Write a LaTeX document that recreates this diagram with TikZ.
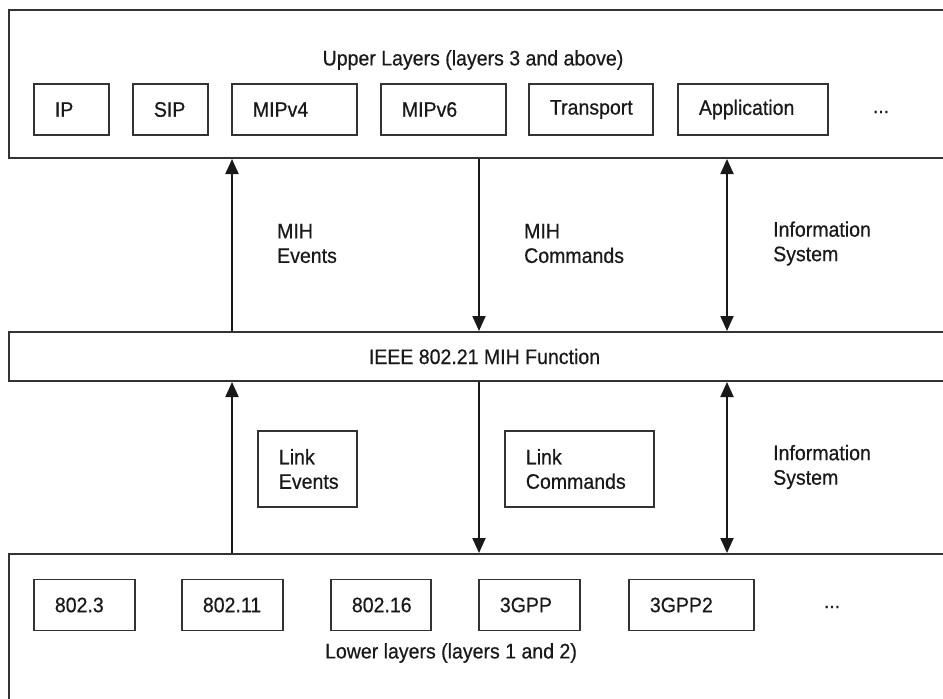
\documentclass[tikz,border=0pt]{standalone}
\usepackage{fontspec}
\setmainfont{Liberation Sans}[FakeStretch=0.93, FakeBold=0.5]
\usetikzlibrary{arrows.meta}
\hfuzz=20pt
\hbadness=10000
\begin{document}
\begin{tikzpicture}[x=1pt,y=-1pt,
  every node/.style={font=\fontsize{21}{24.5}\selectfont, text=black!90},
  layer/.style={draw=black!80, line width=2pt, minimum width=951pt, inner sep=0pt},
  ibox/.style={draw=black!80, line width=1.8pt, minimum height=51pt, inner xsep=21pt, inner ysep=0pt, align=left, anchor=west},
  tip/.tip={Triangle[length=15pt,width=13pt]},
  arr/.style={draw=black!90, line width=2pt, -tip},
  darr/.style={draw=black!90, line width=2pt, tip-tip},
  lbl/.style={anchor=west, align=left, inner sep=0pt}]
\useasboundingbox[fill=white] (0,0) rectangle (943,699);

% layer boxes (extend past the right edge)
\node[layer, minimum height=148pt] (upper) at (484.5,84) {};
\node[layer, minimum height=49pt] (mih) at (484.5,356.5) {IEEE 802.21 MIH Function};
\node[layer, minimum height=166pt] (lower) at (484.5,637) {};

% titles
\node (uttl) at (473,60) {Upper Layers (layers 3 and above)};
\node (lttl) at (451,653) {Lower layers (layers 1 and 2)};

% upper protocol boxes
\node[ibox, text width=33pt] (ip) at (33,109.5) {IP};
\node[ibox, text width=33pt] (sip) at (132,109.5) {SIP};
\node[ibox, text width=83pt] (mip4) at (231,109.5) {MIPv4};
\node[ibox, text width=83pt] (mip6) at (380,109.5) {MIPv6};
\node[ibox, text width=82pt] (trans) at (528,109.5) {Transport};
\node[ibox, text width=108pt] (app) at (677,109.5) {Application};
\node (udots) at (881,112) {...};

% lower protocol boxes
\node[ibox, text width=59pt] (e3) at (33,605) {802.3};
\node[ibox, text width=59pt] (e11) at (181,605) {802.11};
\node[ibox, text width=58pt] (e16) at (330,605) {802.16};
\node[ibox, text width=59pt] (g3) at (478,605) {3GPP};
\node[ibox, text width=83pt] (g32) at (628,605) {3GPP2};
\node (ldots) at (832,607) {...};

% link boxes
\node[ibox, text width=57pt, minimum height=76pt] (lev) at (257,469) {Link\\Events};
\node[ibox, text width=107pt, minimum height=76pt] (lcmd) at (504,469) {Link\\Commands};

% labels
\node[lbl] (mihev) at (277,243.5) {MIH\\Events};
\node[lbl] (mihcmd) at (524,243.5) {MIH\\Commands};
\node[lbl] (is1) at (773,243.5) {Information\\System};
\node[lbl] (is2) at (773,467) {Information\\System};

% arrow columns
\coordinate (xa) at (232,0);
\coordinate (xb) at (479,0);
\coordinate (xc) at (727,0);

\draw[arr] (mih.north -| xa) -- (upper.south -| xa);
\draw[arr] (upper.south -| xb) -- (mih.north -| xb);
\draw[darr] (upper.south -| xc) -- (mih.north -| xc);
\draw[arr] (lower.north -| xa) -- (mih.south -| xa);
\draw[arr] (mih.south -| xb) -- (lower.north -| xb);
\draw[darr] (mih.south -| xc) -- (lower.north -| xc);
\end{tikzpicture}
\end{document}
